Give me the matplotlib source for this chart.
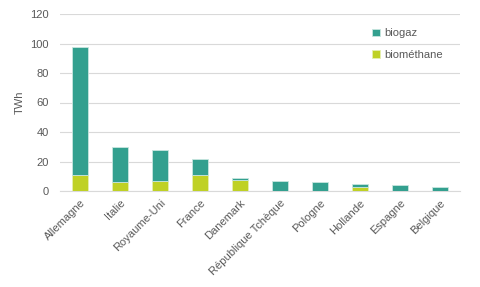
import matplotlib
matplotlib.use('Agg')
import matplotlib.pyplot as plt
import numpy as np

# données (TWh)
pays = ['Allemagne', 'Italie', 'Royaume-Uni', 'France', 'Danemark',
        'République Tchèque', 'Pologne', 'Hollande', 'Espagne', 'Belgique']
biomethane = [10.8, 6.3, 7.0, 11.0, 7.2, 0.0, 0.0, 2.7, 0.0, 0.0]
total = [97.4, 29.6, 27.8, 21.5, 8.6, 6.8, 6.1, 4.7, 4.1, 2.9]
biogaz = [t - b for t, b in zip(total, biomethane)]

vert = '#BFD125'
teal = '#33A08F'
gris = '#595959'

plt.rcParams['font.family'] = ['Liberation Sans', 'DejaVu Sans']

fig = plt.figure(figsize=(4.8, 2.87), dpi=100)
ax = fig.add_axes([60 / 480, 1 - 191 / 287, 400 / 480, 177 / 287])

x = np.arange(len(pays))
ax.bar(x, biomethane, width=0.4, color=vert, edgecolor='#E6F0B0', linewidth=0.6,
       label='biométhane', zorder=3)
ax.bar(x, biogaz, width=0.4, bottom=biomethane, color=teal, edgecolor='#C8E6E0',
       linewidth=0.6, label='biogaz', zorder=3)

ax.set_xlim(-0.5, len(pays) - 0.5)
ax.set_ylim(0, 120)
ax.set_yticks(range(0, 121, 20))
ax.set_xticks(x)
ax.set_xticklabels(pays, rotation=45, ha='right', rotation_mode='anchor',
                   fontsize=8, color=gris)
ax.tick_params(axis='y', labelsize=8, labelcolor=gris, length=0, pad=8)
ax.tick_params(axis='x', length=0, pad=5)
ax.grid(axis='y', color='#D9D9D9', linewidth=0.8, zorder=0)
for s in ['top', 'right', 'left']:
    ax.spines[s].set_visible(False)
ax.spines['bottom'].set_color('#D9D9D9')
ax.set_ylabel('TWh', fontsize=8, color=gris, labelpad=4)

h, l = ax.get_legend_handles_labels()
ax.legend(h[::-1], l[::-1], loc='upper left', bbox_to_anchor=(0.755, 0.975),
          frameon=False, fontsize=8, labelcolor=gris, handlelength=0.7,
          handleheight=0.7, handletextpad=0.4, labelspacing=1.0)

fig.savefig('out.png', dpi=100)
